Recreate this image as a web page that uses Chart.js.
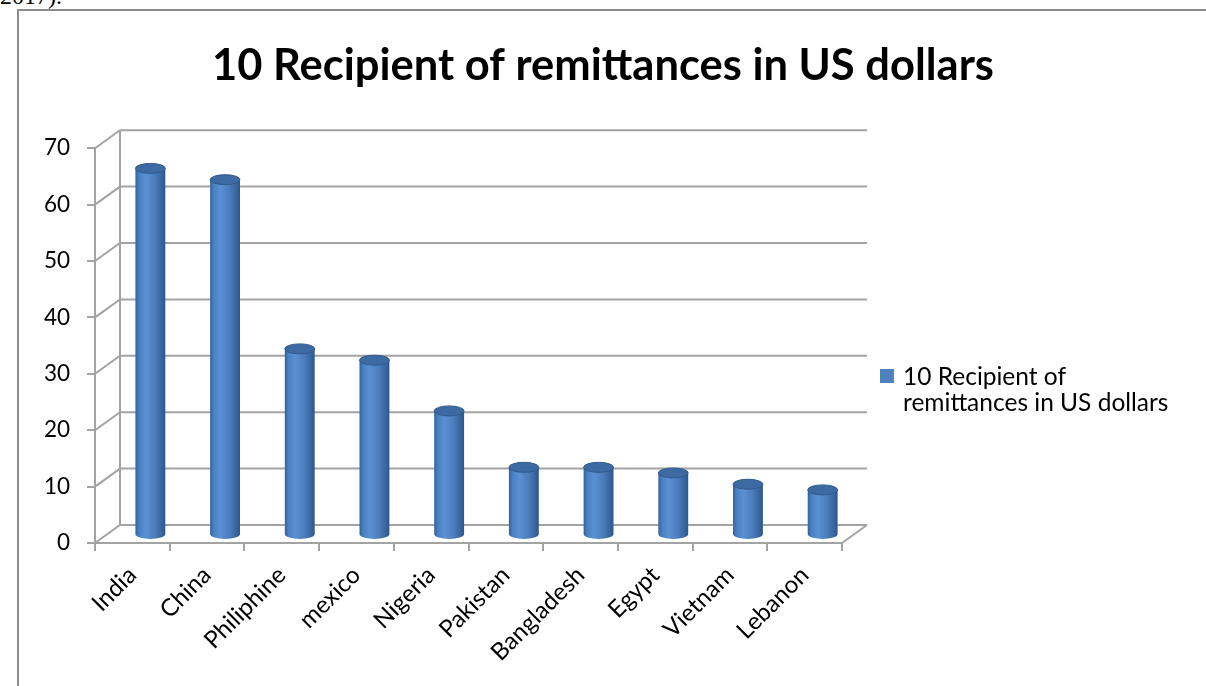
<!DOCTYPE html>
<html>
<head>
<meta charset="utf-8">
<script src="https://cdn.jsdelivr.net/npm/chart.js@4.4.0/dist/chart.umd.min.js"></script>
<style>
  html, body { margin: 0; padding: 0; background: #fff; overflow: hidden; }
  #page { position: relative; width: 1206px; height: 686px; }
  #note { position: absolute; left: 0; top: -17px; font: 24px 'Liberation Serif', serif; color: #000; }
  #frame { position: absolute; left: 17px; top: 9px; width: 1300px; height: 800px; border: 2px solid #8c8c8c; }
  canvas { position: absolute; left: 0; top: 0; }
</style>
</head>
<body>
<div id="page">
  <div id="note">2017).</div>
  <div id="frame"></div>
  <canvas id="remitChart" width="1206" height="686"></canvas>
</div>
<script>
// data
const countries = ['India', 'China', 'Philiphine', 'mexico', 'Nigeria', 'Pakistan', 'Bangladesh', 'Egypt', 'Vietnam', 'Lebanon'];
const remittances = [65, 63, 33, 31, 22, 12, 12, 11, 9, 8];
const seriesName = '10 Recipient of remittances in US dollars';
const legendLines = ['10 Recipient of', 'remittances in US dollars'];
const yMin = 0, yMax = 70, yStep = 10;

// fake 3d: back wall offset and bar offset
const depth = { dx: 25, dy: -18 };
const barShift = { dx: 18, dy: -8 };
const lineGray = '#a3a3a3';

Chart.defaults.font.family = 'Lato';
Chart.defaults.color = '#000';

function cylinderFill(context) {
    const chart = context.chart;
    const xs = chart.scales.x;
    if (!xs || !xs.width) return '#4f81bd';
    const cx = xs.getPixelForValue(context.dataIndex);
    const half = xs.width / countries.length * 0.4 / 2;
    const g = chart.ctx.createLinearGradient(cx - half, 0, cx + half, 0);
    g.addColorStop(0, '#33629c');
    g.addColorStop(0.12, '#4a7fc1');
    g.addColorStop(0.35, '#5b90d3');
    g.addColorStop(0.65, '#4a7dbd');
    g.addColorStop(0.88, '#37669f');
    g.addColorStop(1, '#2b5689');
    return g;
}

const walls3d = {
    id: 'walls3d',
    beforeDatasetsDraw(chart) {
        const { ctx, chartArea: a, scales: { y } } = chart;
        ctx.save();
        ctx.strokeStyle = lineGray;
        ctx.lineWidth = 2;
        ctx.beginPath();
        // back wall left edge
        ctx.moveTo(a.left + depth.dx, y.getPixelForValue(yMax) + depth.dy);
        ctx.lineTo(a.left + depth.dx, y.getPixelForValue(yMin) + depth.dy);
        for (let v = yMin; v <= yMax; v += yStep) {
            const py = y.getPixelForValue(v);
            ctx.moveTo(a.left, py);
            ctx.lineTo(a.left + depth.dx, py + depth.dy);
            ctx.lineTo(a.right + depth.dx, py + depth.dy);
        }
        // floor right edge
        ctx.moveTo(a.right, a.bottom);
        ctx.lineTo(a.right + depth.dx, a.bottom + depth.dy);
        ctx.stroke();
        ctx.restore();

        ctx.save();
        ctx.translate(barShift.dx, barShift.dy);
    },
    afterDatasetsDraw(chart) {
        const ctx = chart.ctx;
        chart.getDatasetMeta(0).data.forEach(bar => {
            const rx = bar.width / 2, ry = 5;
            ctx.beginPath();
            ctx.ellipse(bar.x, bar.base, rx, ry, 0, 0, Math.PI);
            ctx.fillStyle = bar.options.backgroundColor;
            ctx.fill();
            ctx.beginPath();
            ctx.ellipse(bar.x, bar.y, rx, ry, 0, 0, Math.PI * 2);
            ctx.fillStyle = '#3d6aa3';
            ctx.fill();
            ctx.strokeStyle = '#31598c';
            ctx.lineWidth = 1;
            ctx.stroke();
        });
        ctx.restore();
    }
};

const sideLegend = {
    id: 'sideLegend',
    afterDraw(chart) {
        const ctx = chart.ctx;
        const x0 = chart.chartArea.right + 38;
        ctx.save();
        ctx.fillStyle = '#4f81bd';
        ctx.fillRect(x0, 369, 14, 14);
        ctx.fillStyle = '#000';
        ctx.font = '24.5px Lato';
        ctx.textBaseline = 'alphabetic';
        legendLines.forEach((line, i) => ctx.fillText(line, x0 + 23, 385 + i * 26));
        ctx.restore();
    }
};

const ctx = document.getElementById('remitChart').getContext('2d');
const remitChart = new Chart(ctx, {
    type: 'bar',
    data: {
        labels: countries,
        datasets: [{
            label: seriesName,
            data: remittances,
            backgroundColor: cylinderFill,
            borderWidth: 0,
            barPercentage: 0.8,
            categoryPercentage: 0.5
        }]
    },
    options: {
        responsive: false,
        animation: false,
        layout: { padding: 0 },
        plugins: {
            legend: { display: false },
            tooltip: { enabled: false },
            title: {
                display: true,
                text: seriesName,
                color: '#000',
                font: { size: 43.5, weight: 'bold' },
                padding: { top: 40, bottom: 56 }
            }
        },
        scales: {
            x: {
                grid: { drawOnChartArea: false, drawTicks: true, tickLength: 8, color: lineGray, lineWidth: 2, offset: true },
                border: { color: lineGray, width: 2 },
                ticks: { font: { size: 24 }, minRotation: 45, maxRotation: 45, autoSkip: false, padding: 10 },
                afterFit(scale) { scale.height = 143; }
            },
            y: {
                min: yMin,
                max: yMax,
                grid: { drawOnChartArea: false, drawTicks: true, tickLength: 8, color: lineGray, lineWidth: 2 },
                border: { color: lineGray, width: 2 },
                ticks: { stepSize: yStep, font: { size: 22.5 }, padding: 17 },
                afterFit(scale) { scale.width = 95; }
            },
            // empty strip on the right that holds the legend
            legendSpace: {
                type: 'linear',
                position: 'right',
                grid: { display: false },
                border: { display: false },
                ticks: { display: false },
                afterFit(scale) { scale.width = 364; }
            }
        }
    },
    plugins: [walls3d, sideLegend]
});
</script>
</body>
</html>
